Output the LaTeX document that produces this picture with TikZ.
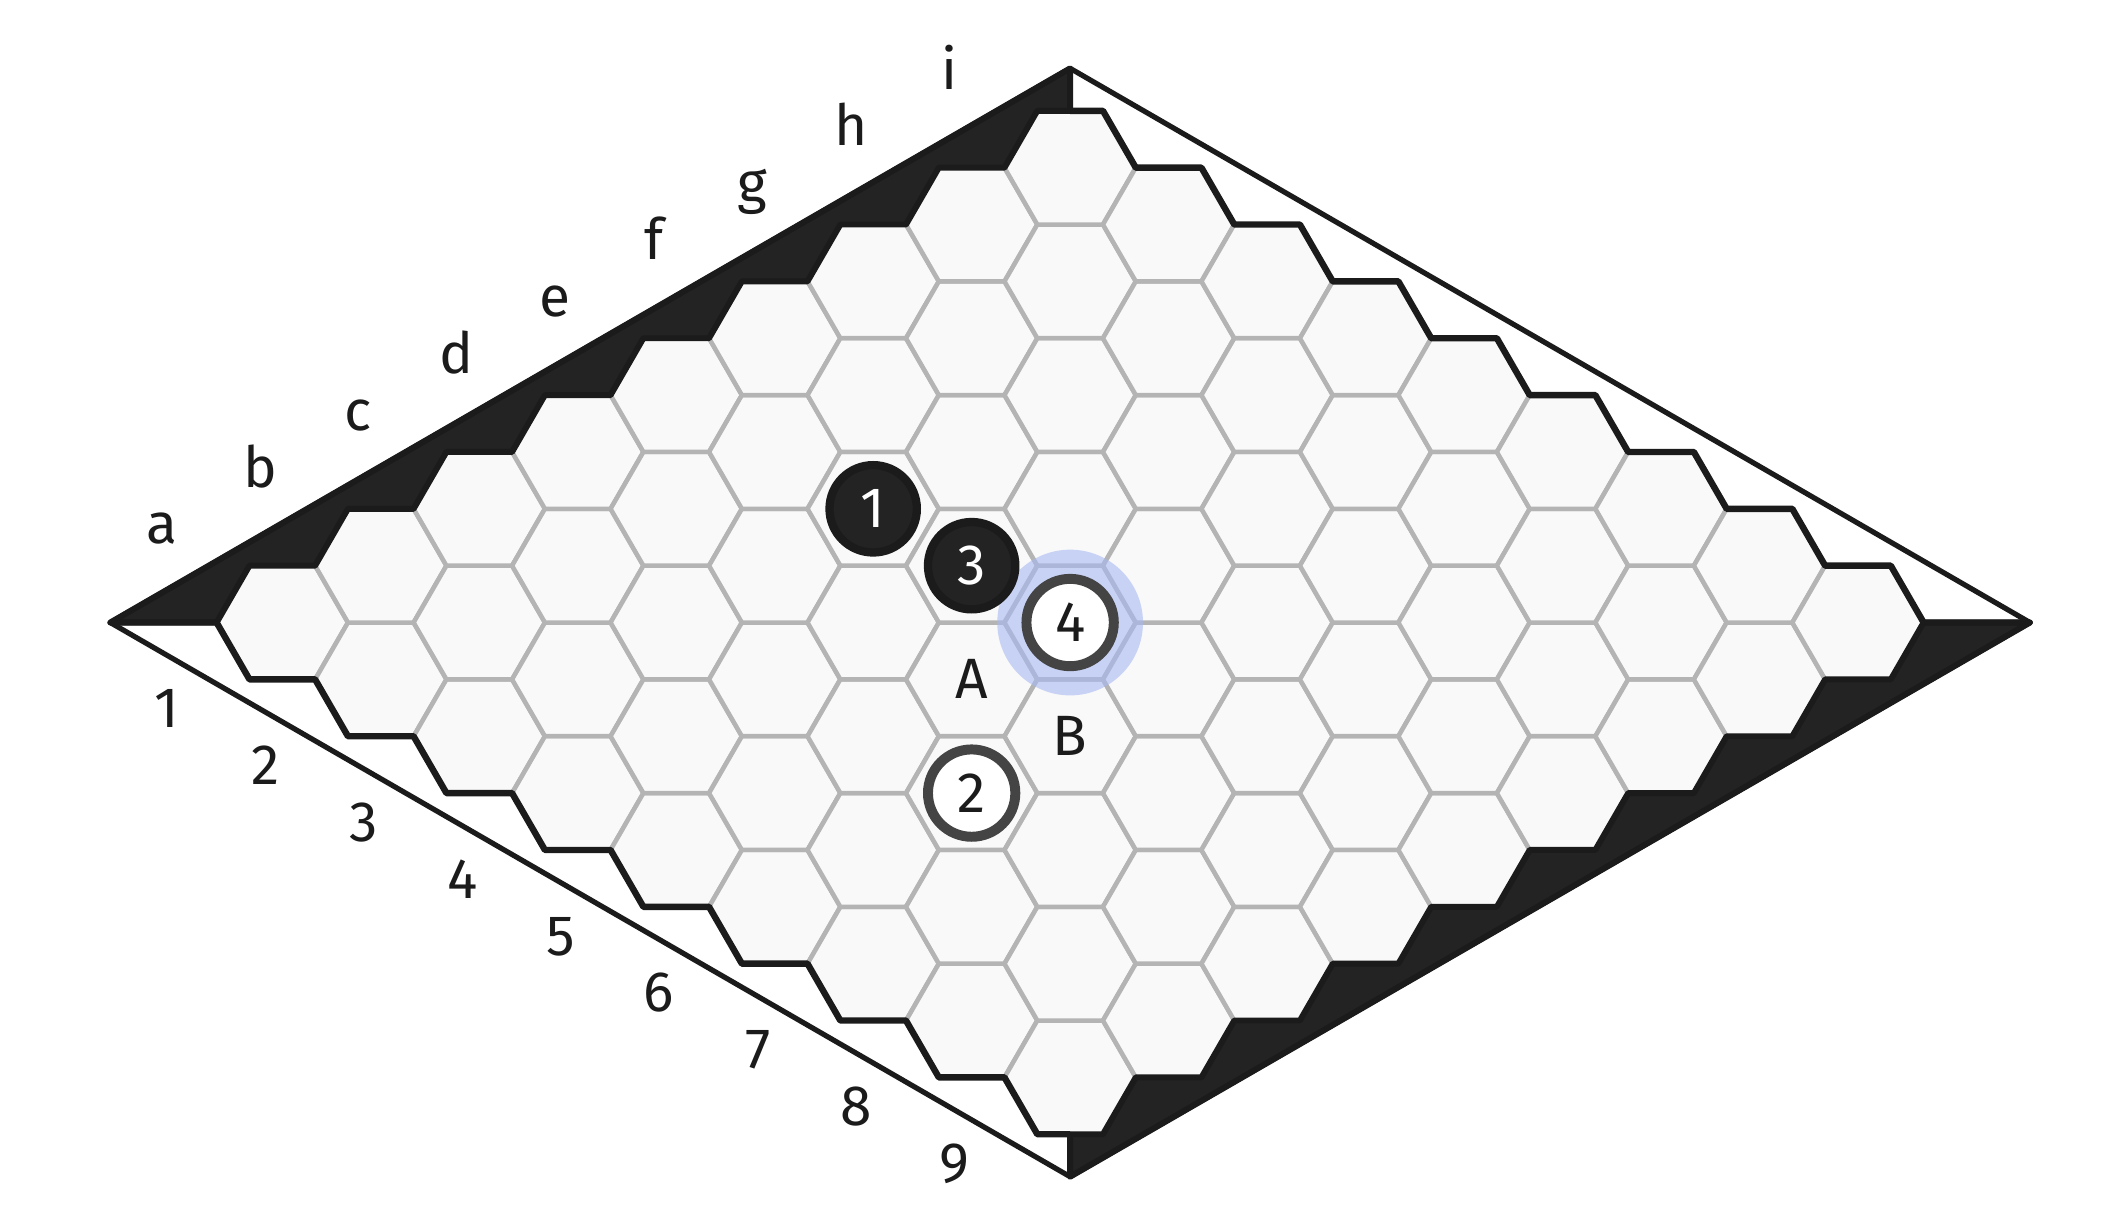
\documentclass[tikz,border=0pt]{standalone}
\usepackage{fontspec}
\setmainfont{Fira Sans}
\usetikzlibrary{positioning}
\definecolor{cellfill}{HTML}{F9F9F9}
\definecolor{cellline}{HTML}{B4B4B4}
\definecolor{edgeblack}{HTML}{1B1B1B}
\definecolor{stoneblack}{HTML}{232323}
\definecolor{ringgrey}{HTML}{444444}
\definecolor{lastblue}{RGB}{168,184,242}
\begin{document}
\begin{tikzpicture}[x=0.487cm,y=0.487cm,font=\fontsize{12pt}{14pt}\selectfont,
    cell/.style={fill=cellfill,draw=cellline,line width=0.95pt,line join=round},
    blackside/.style={fill=stoneblack,draw=edgeblack,line width=1.25pt,line join=round},
    sideline/.style={draw=edgeblack,line width=1.35pt,line join=round},
    frame/.style={draw=edgeblack,line width=1.1pt,line join=round},
    bstone/.style={circle,fill=stoneblack,draw=edgeblack,line width=1.75pt,minimum size=0.648cm,inner sep=0pt,text=white},
    wstone/.style={circle,fill=white,draw=ringgrey,line width=2.1pt,minimum size=0.648cm,inner sep=0pt,text=edgeblack},
    hilite/.style={circle,fill=lastblue,fill opacity=0.6,minimum size=1.081cm,inner sep=0pt},
    lbl/.style={text=edgeblack,inner sep=0pt}]
\useasboundingbox (-16.30,-9.223) rectangle (15.90,9.482);
\def\W{14.62}
\def\H{8.441}
\foreach \l in {0,...,8}
    \foreach \n in {0,...,8}
        \draw[cell] ({1.5*(\l+\n-8)},{0.8660254*(\l-\n)}) +(0:1) -- +(60:1) -- +(120:1) -- +(180:1) -- +(240:1) -- +(300:1) -- cycle;
\filldraw[blackside] (-\W,0) -- (-13,0) \foreach \l in {0,...,7}{ -- ({1.5*(\l-8)-0.5},{0.8660254*(\l+1)}) -- ({1.5*(\l-8)+0.5},{0.8660254*(\l+1)}) } -- (-0.5,7.794) -- (0,7.794) -- (0,\H) -- cycle;
\filldraw[blackside] (\W,0) -- (13,0) \foreach \l in {8,...,1}{ -- ({1.5*\l+0.5},{0.8660254*(\l-9)}) -- ({1.5*\l-0.5},{0.8660254*(\l-9)}) } -- (0.5,-7.794) -- (0,-7.794) -- (0,-\H) -- cycle;
\draw[sideline] (0,7.794) \foreach \n in {0,...,8}{ -- ({1.5*\n+0.5},{0.8660254*(9-\n)}) -- ({1.5*\n+1},{0.8660254*(8-\n)}) } -- (\W,0);
\draw[sideline] (-\W,0) -- (-13,0) \foreach \n in {0,...,7}{ -- ({1.5*(\n-8)-0.5},{-0.8660254*(\n+1)}) -- ({1.5*(\n-8)+0.5},{-0.8660254*(\n+1)}) } -- (-0.5,-7.794) -- (0,-7.794);
\draw[frame] (-\W,0) -- (0,\H) -- (\W,0) -- (0,-\H) -- cycle;
\foreach \c [count=\l from 0] in {a,b,c,d,e,f,g,h,i}
    \node[lbl,anchor=base] (col\c) at ({1.5*(\l-8)-1.84},{0.8660254*\l+1.197}) {\c};
\foreach \n in {1,...,9}
    \node[lbl,anchor=base] (row\n) at ({1.5*(\n-9)-1.76},{-0.8660254*(\n-1)-1.60}) {\n};
\node[lbl] (markA) at (-1.5,-0.866) {A};
\node[lbl] (markB) at (0,-1.732) {B};
\node[hilite] (last) at (0,0) {};
\node[bstone] (s1) at (-3,1.732) {1};
\node[wstone] (s2) at (-1.5,-2.598) {2};
\node[bstone] (s3) at (-1.5,0.866) {3};
\node[wstone] (s4) at (0,0) {4};
\end{tikzpicture}
\end{document}
